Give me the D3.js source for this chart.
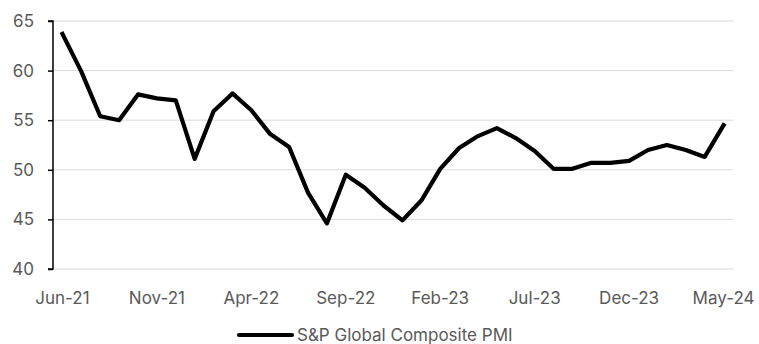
<!DOCTYPE html>
<html><head><meta charset="utf-8">
<script src="https://cdn.jsdelivr.net/npm/d3@7"></script>
<style>body{margin:0;background:#fff}svg{display:block}text{font-family:Inter,"Open Sans",sans-serif}</style>
</head><body>
<svg id="c" width="759" height="344"></svg>
<script>
const months = ["Jun-21","Jul-21","Aug-21","Sep-21","Oct-21","Nov-21","Dec-21","Jan-22","Feb-22","Mar-22","Apr-22","May-22","Jun-22","Jul-22","Aug-22","Sep-22","Oct-22","Nov-22","Dec-22","Jan-23","Feb-23","Mar-23","Apr-23","May-23","Jun-23","Jul-23","Aug-23","Sep-23","Oct-23","Nov-23","Dec-23","Jan-24","Feb-24","Mar-24","Apr-24","May-24"];
const pmi = [63.7,59.9,55.4,55.0,57.6,57.2,57.0,51.1,55.9,57.7,56.0,53.6,52.3,47.7,44.6,49.5,48.2,46.4,44.9,46.9,50.1,52.2,53.4,54.2,53.2,51.9,50.1,50.1,50.7,50.7,50.9,52.0,52.5,52.0,51.3,54.5];
const xTickLabels = ["Jun-21","Nov-21","Apr-22","Sep-22","Feb-23","Jul-23","Dec-23","May-24"];
const yTicks = [40,45,50,55,60,65];
const seriesName = "S&P Global Composite PMI";

const svg = d3.select("#c");
const L = 53, R = 733, T = 21, B = 269;
const FS = 17;
const x = d3.scaleBand().domain(months).range([L, R]);
const y = d3.scaleLinear().domain([40, 65]).range([B, T]);

svg.append("g").selectAll("line").data(yTicks).join("line")
  .attr("x1", L).attr("x2", R)
  .attr("y1", d => y(d)).attr("y2", d => y(d))
  .attr("stroke", "#d9d9d9").attr("stroke-width", 1);

const ya = svg.append("g").attr("transform", `translate(${L},0)`)
  .call(d3.axisLeft(y).tickValues(yTicks).tickSize(5).tickPadding(14));
ya.select(".domain").attr("stroke", "#000").attr("stroke-width", 1.5).attr("d", `M-5,${B}H0V${T}H-5`);
ya.selectAll(".tick line").attr("stroke", "#000").attr("stroke-width", 1.5);
ya.selectAll("text").attr("fill", "#595959").attr("font-size", FS).style("font-family", "Inter, 'Open Sans', sans-serif");

const xa = svg.append("g").attr("transform", `translate(0,${B})`)
  .call(d3.axisBottom(x).tickValues(xTickLabels).tickSize(0).tickPadding(23));
xa.select(".domain").remove();
xa.selectAll("text").attr("fill", "#595959").attr("font-size", FS).style("font-family", "Inter, 'Open Sans', sans-serif");

const line = d3.line().x((d, i) => x(months[i]) + x.bandwidth() / 2).y(d => y(d));
svg.append("path").datum(pmi).attr("d", line)
  .attr("fill", "none").attr("stroke", "#000").attr("stroke-width", 4.2)
  .attr("stroke-linejoin", "round").attr("stroke-linecap", "square");

const lg = svg.append("g");
lg.append("line").attr("x1", 239).attr("x2", 292).attr("y1", 335).attr("y2", 335)
  .attr("stroke", "#000").attr("stroke-width", 4.2).attr("stroke-linecap", "round");
lg.append("text").attr("x", 297).attr("y", 340.5).attr("fill", "#595959").attr("font-size", FS).text(seriesName);
</script>
</body></html>
